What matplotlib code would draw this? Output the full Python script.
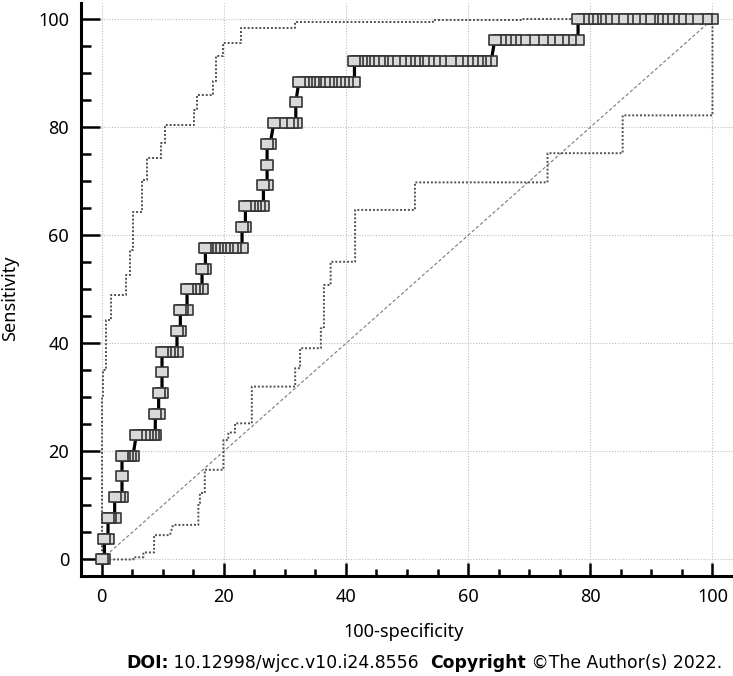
import matplotlib
matplotlib.use('Agg')
import matplotlib.pyplot as plt
from matplotlib.path import Path
from matplotlib.text import Annotation
from matplotlib.ticker import MultipleLocator, FixedLocator

plt.rcParams['font.family'] = ['Noto Sans', 'DejaVu Sans']

# ---------------- data ----------------
sens_levels = [0.0, 3.85, 7.69, 11.54, 15.38, 19.23, 23.08, 26.92, 30.77, 34.62,
               38.46, 42.31, 46.15, 50.0, 53.85, 57.69, 61.54, 65.38, 69.23,
               73.08, 76.92, 80.77, 84.62, 88.46, 92.31, 96.15, 100.0]

fpr_at_level = [
    [0.0, 0.47],
    [0.47, 1.06],
    [1.07, 1.45, 2.15],
    [2.15, 2.8, 3.35],
    [3.35],
    [3.35, 3.7, 4.2, 4.6, 5.15],
    [5.7, 6.36, 6.9, 7.44, 8.0, 8.42, 8.8],
    [8.8, 9.35],
    [9.35, 9.9],
    [9.9],
    [9.9, 10.35, 11.0, 11.55, 12.35],
    [12.35, 12.9],
    [12.9, 13.2, 14.0],
    [14.0, 14.55, 15.1, 15.6, 16.45],
    [16.45, 17.0],
    [17.0, 17.26, 17.8, 18.35, 18.9, 19.45, 20.0, 20.5, 21.35, 21.9, 23.0],
    [23.0, 23.55],
    [23.55, 24.1, 24.6, 25.2, 25.7, 26.5],
    [26.5, 27.1],
    [27.1],
    [27.1, 27.6],
    [28.2, 29.3, 30.6, 31.2, 31.8],
    [31.8],
    [32.3, 33.0, 33.4, 34.0, 34.6, 35.0, 35.6, 36.4, 37.0, 37.6, 38.2, 38.8,
     39.6, 40.2, 41.4],
    [41.4, 41.8, 42.4, 43.0, 43.6, 44.5, 45.4, 45.9, 46.7, 47.8, 48.9, 49.7,
     50.3, 51.1, 51.7, 52.7, 53.5, 54.4, 55.4, 57.1, 58.2, 59.0, 59.8, 60.6,
     61.5, 62.0, 62.8, 63.8],
    [64.35, 65.3, 66.1, 66.9, 67.7, 69.1, 70.7, 72.1, 73.2, 74.5, 75.6, 76.7,
     78.0],
    [78.0, 78.8, 79.5, 80.3, 80.8, 81.6, 82.5, 83.8, 85.2, 86.0, 87.1, 88.2,
     89.6, 90.1, 90.9, 91.7, 92.8, 93.6, 94.7, 95.8, 97.5, 98.9, 100.0],
]

upper_ci_x = [0, 0, 0.3, 0.3, 0.7, 0.7, 1.6, 1.6, 4.0, 4.0, 4.6, 4.6, 5.1, 5.1,
              6.6, 6.6, 7.5, 7.5, 9.8, 9.8, 10.4, 10.4, 15.2, 15.2, 15.7, 15.7,
              18.3, 18.3, 18.8, 18.8, 19.9, 19.9, 22.9, 22.9, 31.7, 31.7, 54.3,
              54.3, 68.8, 68.8, 100]
upper_ci_y = [0, 30, 30, 35, 35, 44.3, 44.3, 48.9, 48.9, 52.7, 52.7, 57.3, 57.3,
              64.4, 64.4, 70.3, 70.3, 74.3, 74.3, 77.0, 77.0, 80.5, 80.5, 83.2,
              83.2, 86.0, 86.0, 88.5, 88.5, 93.1, 93.1, 95.6, 95.6, 98.4, 98.4,
              99.4, 99.4, 99.9, 99.9, 100, 100]

lower_ci_x = [0, 5.2, 5.2, 6.85, 6.85, 8.6, 8.6, 11.2, 11.7, 15.85, 15.85, 16.1,
              16.1, 16.9, 16.9, 19.95, 19.95, 20.75, 20.75, 21.85, 21.85, 24.6,
              24.6, 31.7, 31.7, 32.5, 32.5, 35.9, 35.9, 36.4, 36.4, 37.5, 37.5,
              41.5, 41.5, 51.3, 51.3, 73.0, 73.0, 85.3, 85.3, 100, 100]
lower_ci_y = [0, 0, 0.4, 0.4, 1.3, 1.3, 4.5, 4.5, 6.4, 6.4, 10.4, 10.4, 12.3,
              12.3, 16.6, 16.6, 22.1, 22.1, 23.5, 23.5, 25.2, 25.2, 32.0, 32.0,
              35.4, 35.4, 39.1, 39.1, 42.8, 42.8, 50.8, 50.8, 55.1, 55.1, 64.7,
              64.7, 69.8, 69.8, 75.2, 75.2, 82.2, 82.2, 100]

diag_x = [0, 100]
diag_y = [0, 100]

x_ticks = [0, 20, 40, 60, 80, 100]
y_ticks = [0, 20, 40, 60, 80, 100]

x_label = "100-specificity"
y_label = "Sensitivity"

credit_parts = [("DOI:", 'bold'),
                (" 10.12998/wjcc.v10.i24.8556  ", 'normal'),
                ("Copyright", 'bold'),
                (" \u00a9The Author(s) 2022.", 'normal')]

# ---------------- figure ----------------
W, H = 733, 676
fig = plt.figure(figsize=(W / 100, H / 100), dpi=100)
ax = fig.add_axes([81 / W, 100 / H, 652 / W, 573 / H])
ax.set_xlim(-3.36, 103.36)
ax.set_ylim(-3.06, 103.0)

# flatten ROC points
roc_x, roc_y = [], []
for lvl, xs in zip(sens_levels, fpr_at_level):
    for xv in xs:
        roc_x.append(xv)
        roc_y.append(lvl)

# grid
ax.set_axisbelow(True)
ax.xaxis.set_major_locator(FixedLocator(x_ticks))
ax.yaxis.set_major_locator(FixedLocator(y_ticks))
ax.xaxis.set_minor_locator(MultipleLocator(5))
ax.yaxis.set_minor_locator(MultipleLocator(5))
ax.grid(True, which='major', color='#bdbdbd', lw=0.8, ls=(0, (1, 1.5)), zorder=0)

# diagonal reference
ax.plot(diag_x, diag_y, color='#7a7a7a', lw=0.8, ls=(0, (3, 2)), zorder=2)

# confidence bands
ax.plot(upper_ci_x, upper_ci_y, color='#505050', lw=1.4, ls=(0, (1, 1)), zorder=2)
ax.plot(lower_ci_x, lower_ci_y, color='#505050', lw=1.4, ls=(0, (1, 1)), zorder=2)

# ROC curve
ax.plot(roc_x, roc_y, color='black', lw=2.3, zorder=3, solid_capstyle='butt')

# markers (rectangles, leftmost drawn on top)
rect = Path([(-0.5, -0.433), (0.5, -0.433), (0.5, 0.433), (-0.5, 0.433), (-0.5, -0.433)],
            [Path.MOVETO, Path.LINETO, Path.LINETO, Path.LINETO, Path.CLOSEPOLY])
ax.plot(roc_x[::-1], roc_y[::-1], ls='none', marker=rect, ms=9.14,
        mfc='#d9d9d9', mec='#353535', mew=1.2, zorder=4)

# spines
for s in ('top', 'right'):
    ax.spines[s].set_visible(False)
for s in ('left', 'bottom'):
    ax.spines[s].set_linewidth(2.2)
    ax.spines[s].set_color('black')

ax.tick_params(axis='y', which='major', direction='in', length=13.5, width=1.8,
               pad=8.5, labelsize=13)
ax.tick_params(axis='y', which='minor', direction='in', length=7.5, width=1.8)
ax.tick_params(axis='x', which='major', direction='in', length=9.2, width=1.8,
               pad=9, labelsize=13)
ax.tick_params(axis='x', which='minor', direction='in', length=5, width=1.8)
ax.set_xticklabels([str(t) for t in x_ticks])
ax.set_yticklabels([str(t) for t in y_ticks])

ax.set_xlabel(x_label, fontsize=13)
ax.xaxis.set_label_coords((404 - 81) / 652, (576 - 623) / 573)
ax.set_ylabel(y_label, fontsize=13)
ax.yaxis.set_label_coords((10 - 81) / 652, (576 - 298) / 573)
ax.yaxis.label.set_va('center')

# credit line, chained right-to-left
credit_font = ['DejaVu Sans']
credit_size = 12.4
last_txt, last_w = credit_parts[-1]
prev = fig.text(722 / W, 4 / H, last_txt, ha='right', va='bottom', fontsize=credit_size,
                family=credit_font, fontweight=last_w)
for txt, wgt in reversed(credit_parts[:-1]):
    prev = fig.add_artist(Annotation(txt, xy=(0, 0), xycoords=prev, ha='right',
                                     va='bottom', fontsize=credit_size, family=credit_font,
                                     fontweight=wgt))

fig.savefig('out.png', dpi=100)
